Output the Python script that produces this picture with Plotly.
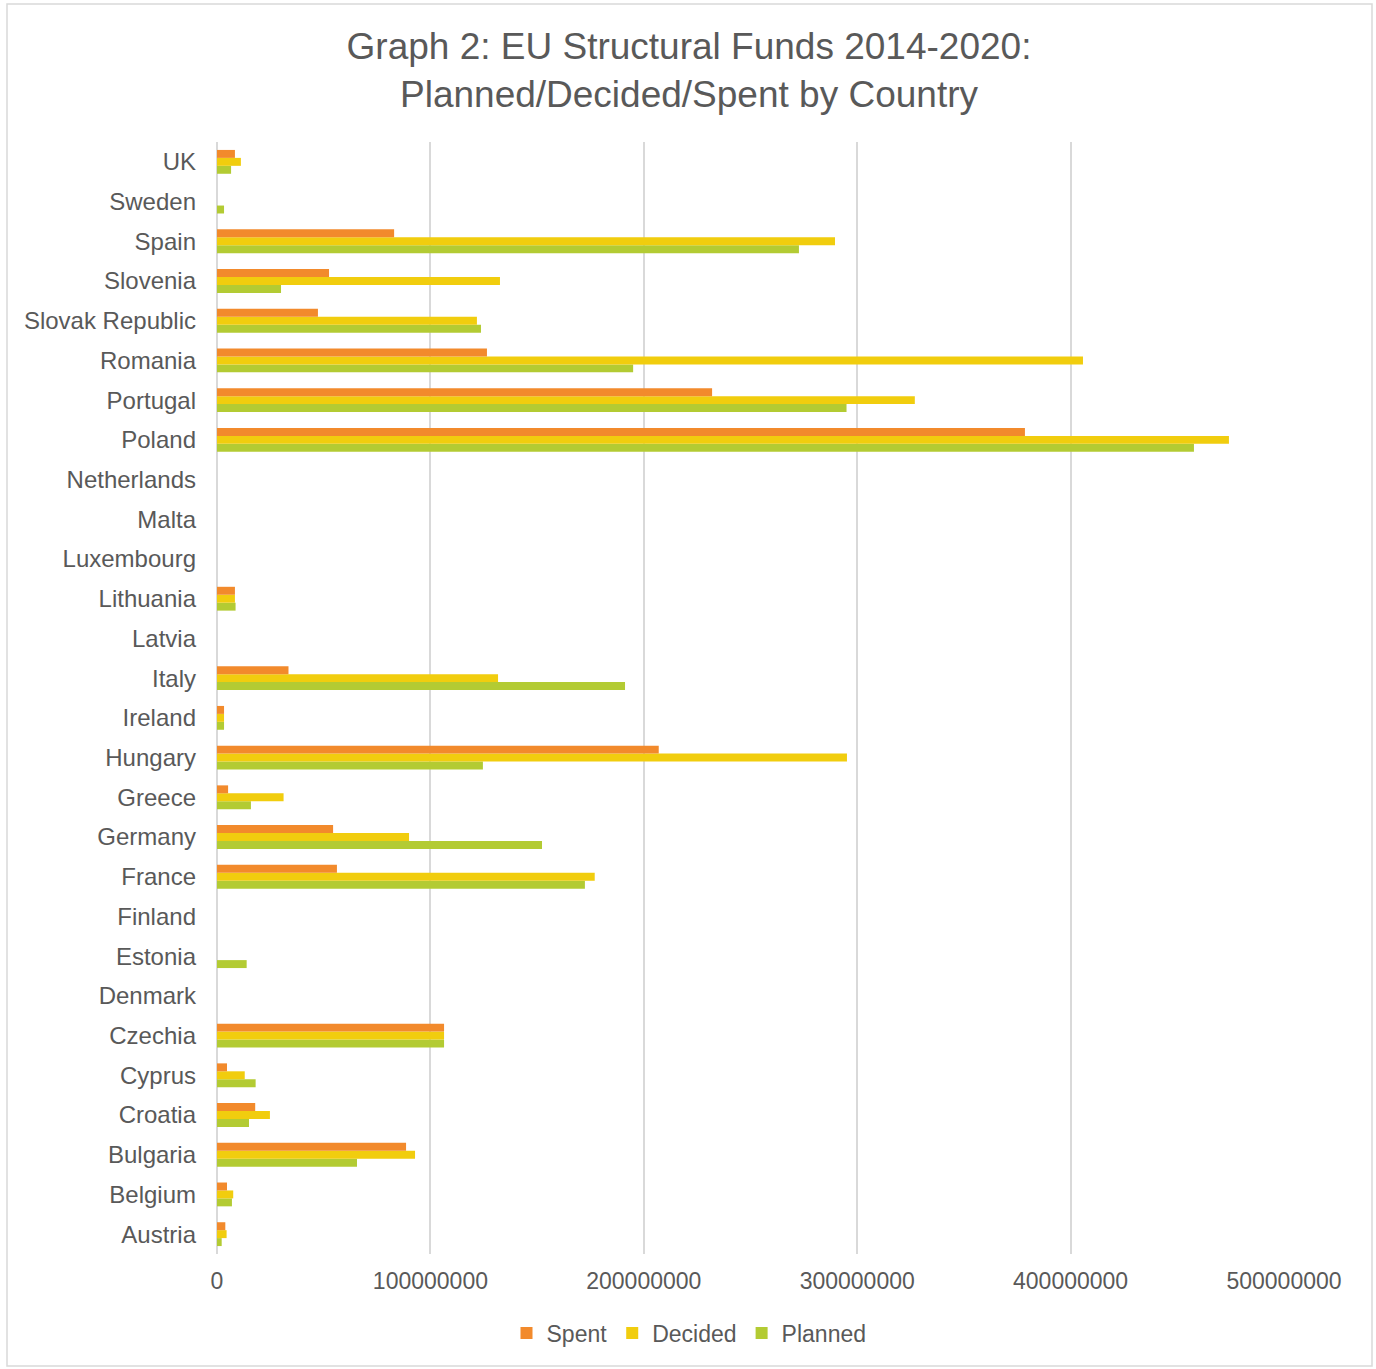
import plotly.graph_objects as go

countries = ["Austria", "Belgium", "Bulgaria", "Croatia", "Cyprus", "Czechia", "Denmark",
             "Estonia", "Finland", "France", "Germany", "Greece", "Hungary", "Ireland",
             "Italy", "Latvia", "Lithuania", "Luxembourg", "Malta", "Netherlands",
             "Poland", "Portugal", "Romania", "Slovak Republic", "Slovenia", "Spain",
             "Sweden", "UK"]

spent = [3.9e6, 4.7e6, 88.6e6, 17.9e6, 4.7e6, 106.4e6, 0,
         0, 0, 56.2e6, 54.4e6, 5.2e6, 207.0e6, 3.3e6,
         33.5e6, 0, 8.4e6, 0, 0, 0,
         378.6e6, 232.0e6, 126.5e6, 47.3e6, 52.5e6, 83.0e6,
         0, 8.4e6]
decided = [4.5e6, 7.6e6, 92.8e6, 24.8e6, 13.0e6, 106.4e6, 0,
           0, 0, 177.0e6, 90.0e6, 31.2e6, 295.2e6, 3.3e6,
           131.7e6, 0, 8.4e6, 0, 0, 0,
           474.2e6, 327.0e6, 405.8e6, 121.8e6, 132.6e6, 289.6e6,
           0, 11.2e6]
planned = [2.2e6, 7.0e6, 65.6e6, 15.0e6, 18.1e6, 106.4e6, 0,
           13.9e6, 0, 172.4e6, 152.3e6, 15.9e6, 124.6e6, 3.3e6,
           191.2e6, 0, 8.7e6, 0, 0, 0,
           457.8e6, 295.0e6, 195.0e6, 123.7e6, 30.0e6, 272.7e6,
           3.3e6, 6.6e6]

x_ticks = [0, 100000000, 200000000, 300000000, 400000000, 500000000]

C_SPENT = "#F28A2C"
C_DECIDED = "#F1CD0E"
C_PLANNED = "#B3CB33"
TXT = "#595959"
GRID = "#D9D9D9"

fig = go.Figure()
fig.add_trace(go.Bar(y=countries, x=planned, name="Planned", orientation="h",
                     marker=dict(color=C_PLANNED, line=dict(width=0)), legendrank=3))
fig.add_trace(go.Bar(y=countries, x=decided, name="Decided", orientation="h",
                     marker=dict(color=C_DECIDED, line=dict(width=0)), legendrank=2))
fig.add_trace(go.Bar(y=countries, x=spent, name="Spent", orientation="h",
                     marker=dict(color=C_SPENT, line=dict(width=0)), legendrank=1))

L, R, T, B = 217, 92, 142, 115
W, H = 1376, 1369
pw, ph = W - L - R, H - T - B

fig.update_layout(
    width=W, height=H,
    margin=dict(l=L, r=R, t=T, b=B),
    paper_bgcolor="white", plot_bgcolor="white",
    barmode="group", bargap=0.4, bargroupgap=0,
    font=dict(family="Liberation Sans, Arial, sans-serif", color=TXT, size=23),
    title=dict(text="Graph 2: EU Structural Funds 2014-2020:<br>Planned/Decided/Spent by Country",
               x=(689) / W, xanchor="center", y=1 - 58.5 / H, yanchor="middle",
               font=dict(size=37, color=TXT)),
    xaxis=dict(range=[0, 500000000], tickvals=x_ticks, tickformat="d",
               showgrid=True, gridcolor=GRID, gridwidth=1.5,
               zeroline=True, zerolinecolor=GRID, zerolinewidth=2,
               showline=False, ticks="", ticklabelstandoff=11,
               tickfont=dict(size=23, color=TXT), fixedrange=True),
    yaxis=dict(showgrid=False, showline=False, ticks="", ticklabelstandoff=20,
               tickfont=dict(size=24, color=TXT), categoryorder="array",
               categoryarray=countries),
    legend=dict(orientation="h", x=(689 - L) / pw, xanchor="center",
                y=-(1333 - (H - B)) / ph, yanchor="middle",
                font=dict(size=23, color=TXT), itemwidth=30),
    showlegend=True,
    shapes=[dict(type="rect", xref="paper", yref="paper",
                 x0=(7 - L) / pw, x1=(1372 - L) / pw,
                 y0=((H - B) - 1366) / ph, y1=((H - B) - 4) / ph,
                 line=dict(color=GRID, width=1.5), fillcolor="rgba(0,0,0,0)", layer="below")],
)

fig.write_html("out.html")
